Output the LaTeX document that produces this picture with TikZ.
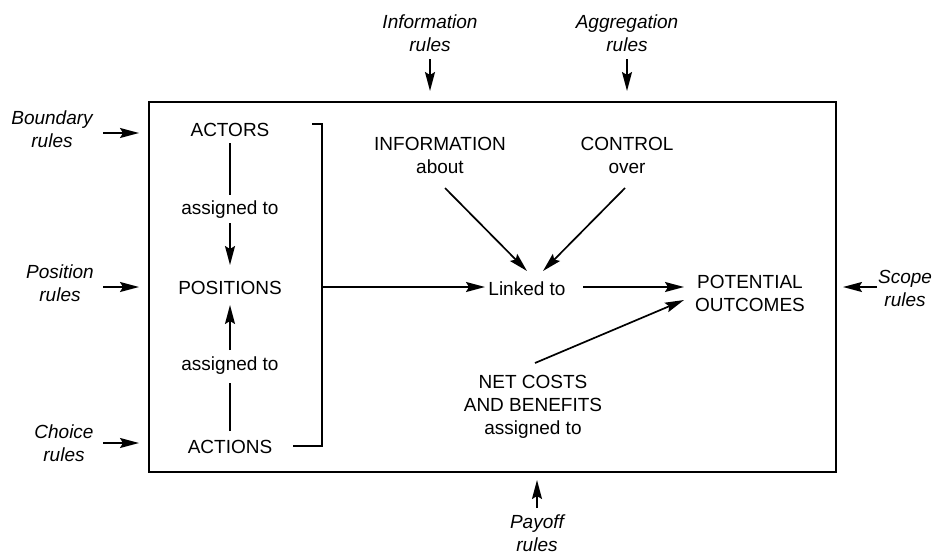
\documentclass[tikz,border=0pt]{standalone}
\usepackage{fontspec}
\setmainfont{Liberation Sans}
\usetikzlibrary{arrows.meta}
\begin{document}
\begin{tikzpicture}[x=1pt,y=-1pt,
  lbl/.style={font=\fontsize{19}{23}\selectfont, align=center, inner sep=0pt},
  rl/.style={font=\fontsize{19}{23}\selectfont\itshape, align=center, inner sep=0pt},
  arr/.style={line width=1.7pt, -{Stealth[length=19pt,width=10pt,inset=3pt]}},
  ln/.style={line width=1.7pt}]
\useasboundingbox (0,0) rectangle (936,557);
% frame
\node[draw, line width=2.2pt, minimum width=687pt, minimum height=370pt, anchor=north west, inner sep=0pt] (box) at (148,101) {};
% rule labels
\node[rl] (bnd) at (52,129) {Boundary\\rules};
\node[rl] (posr) at (60,283) {Position\\rules};
\node[rl] (cho) at (64,443) {Choice\\rules};
\node[rl] (inf) at (430,33) {Information\\rules};
\node[rl] (agg) at (627,33) {Aggregation\\rules};
\node[rl] (scp) at (905,288) {Scope\\rules};
\node[rl] (pay) at (537,533) {Payoff\\rules};
% inner nodes
\node[lbl] (actors) at (230,130) {ACTORS};
\node[lbl] (asg1) at (230,210) {assigned to};
\node[lbl] (positions) at (230,288) {POSITIONS};
\node[lbl] (asg2) at (230,366) {assigned to};
\node[lbl] (actions) at (230,447) {ACTIONS};
\node[lbl] (information) at (440,155) {INFORMATION\\about};
\node[lbl] (control) at (627,155) {CONTROL\\over};
\node[lbl] (linked) at (527,289) {Linked to};
\node[lbl] (outcomes) at (750,293) {POTENTIAL\\OUTCOMES};
\node[lbl] (netcost) at (533,407) {NET COSTS\\AND BENEFITS\\assigned to};
% connector end points
\coordinate (bA) at (103,133); \coordinate (bB) at (139,133);
\coordinate (pA) at (103,287); \coordinate (pB) at (139,287);
\coordinate (cA) at (103,443); \coordinate (cB) at (139,443);
\coordinate (iA) at (430,59); \coordinate (iB) at (430,91);
\coordinate (aA) at (627,59); \coordinate (aB) at (627,91);
\coordinate (sA) at (877,287); \coordinate (sB) at (843,287);
\coordinate (yA) at (537,508); \coordinate (yB) at (537,480);
\coordinate (u1) at (230,143); \coordinate (u2) at (230,195);
\coordinate (u3) at (230,223); \coordinate (u4) at (230,265);
\coordinate (d1) at (230,431); \coordinate (d2) at (230,383);
\coordinate (d3) at (230,350); \coordinate (d4) at (230,305);
\coordinate (brT) at (312,124); \coordinate (brB) at (293,446); \coordinate (brR) at (322,287);
\coordinate (lkIn) at (485,287);
\coordinate (inA) at (445,188); \coordinate (inB) at (527,271);
\coordinate (coA) at (625,188); \coordinate (coB) at (543,271);
\coordinate (loA) at (583,287); \coordinate (loB) at (684,287);
\coordinate (ncA) at (535,363); \coordinate (ncB) at (684,300);
% rule arrows
\draw[arr] (bA) -- (bB);
\draw[arr] (pA) -- (pB);
\draw[arr] (cA) -- (cB);
\draw[arr] (iA) -- (iB);
\draw[arr] (aA) -- (aB);
\draw[arr] (sA) -- (sB);
\draw[arr] (yA) -- (yB);
% left column
\draw[ln] (u1) -- (u2);
\draw[arr] (u3) -- (u4);
\draw[ln] (d1) -- (d2);
\draw[arr] (d3) -- (d4);
% bracket
\draw[ln] (brT) -| (brB -| brR) -- (brB);
\draw[arr] (brR) -- (lkIn);
% right part
\draw[arr] (inA) -- (inB);
\draw[arr] (coA) -- (coB);
\draw[arr] (loA) -- (loB);
\draw[arr] (ncA) -- (ncB);
\end{tikzpicture}
\end{document}
